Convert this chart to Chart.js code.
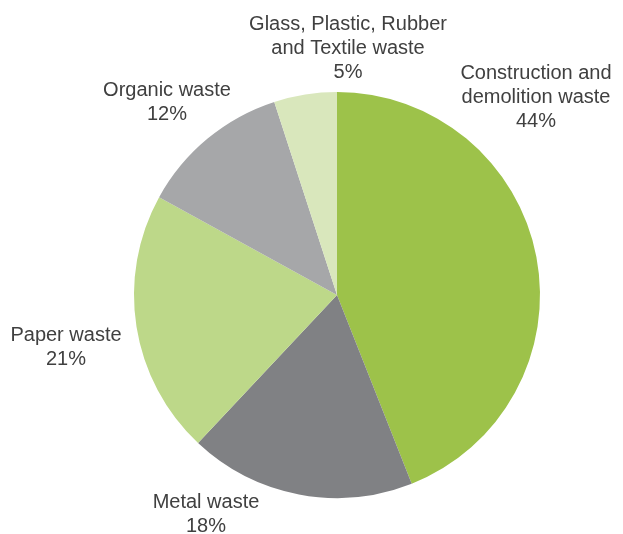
<!DOCTYPE html>
<html>
<head>
<meta charset="utf-8">
<script src="https://cdn.jsdelivr.net/npm/chart.js@4.4.0/dist/chart.umd.min.js"></script>
<style>
  html, body { margin: 0; padding: 0; background: #fff; }
  #wrap { width: 623px; height: 534px; position: relative; }
</style>
</head>
<body>
<div id="wrap"><canvas id="wasteChart"></canvas></div>
<script>
// waste composition, clockwise from 12 o'clock
var categories = [
    ["Construction and", "demolition waste"],
    ["Metal waste"],
    ["Paper waste"],
    ["Organic waste"],
    ["Glass, Plastic, Rubber", "and Textile waste"]
];
var shares = [44, 18, 21, 12, 5];
var colours = ["#9dc24a", "#808184", "#bdd889", "#a6a7a9", "#d9e7bc"];

// where each label block sits (centre x, top line y)
var labelSpots = [
    [536, 73],
    [206, 502],
    [66, 335],
    [167, 90],
    [348, 24]
];

var outsideLabels = {
    id: "outsideLabels",
    afterDatasetsDraw: function(chart) {
        var ctx = chart.ctx;
        var data = chart.data.datasets[0].data;
        ctx.save();
        ctx.font = "20px 'Liberation Sans', Arial, sans-serif";
        ctx.fillStyle = "#404040";
        ctx.textAlign = "center";
        ctx.textBaseline = "middle";
        for (var i = 0; i < data.length; i++) {
            var lines = chart.data.labels[i].concat([data[i] + "%"]);
            var x = labelSpots[i][0], y = labelSpots[i][1];
            for (var j = 0; j < lines.length; j++) {
                ctx.fillText(lines[j], x, y + j * 24);
            }
        }
        ctx.restore();
    }
};

var chart = new Chart(document.getElementById("wasteChart"), {
    type: "pie",
    data: {
        labels: categories,
        datasets: [{
            data: shares,
            backgroundColor: colours,
            borderWidth: 0
        }]
    },
    options: {
        responsive: true,
        maintainAspectRatio: false,
        animation: false,
        layout: { padding: { left: 134, right: 83, top: 92, bottom: 36 } },
        plugins: {
            legend: { display: false },
            tooltip: { enabled: false }
        }
    },
    plugins: [outsideLabels]
});
</script>
</body>
</html>
